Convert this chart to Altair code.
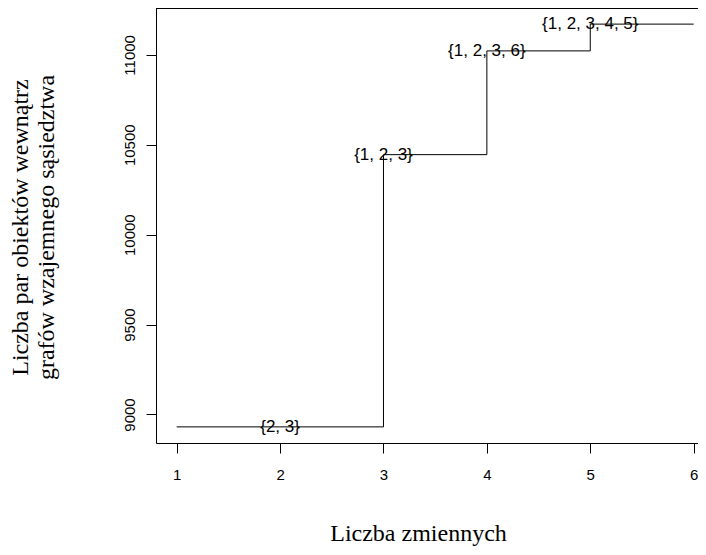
import altair as alt
import pandas as pd

# Step data (number of variables vs. number of object pairs)
step_x = [1, 2, 3, 4, 5, 6]
step_y = [8931, 8931, 10445, 11022, 11171, 11171]

# Labels of the chosen variable subsets
label_x = [2, 3, 4, 5]
label_y = [8931, 10445, 11022, 11171]
label_text = ["{2, 3}", "{1, 2, 3}", "{1, 2, 3, 6}", "{1, 2, 3, 4, 5}"]

x_ticks = [1, 2, 3, 4, 5, 6]
y_ticks = [9000, 9500, 10000, 10500, 11000]

step_df = pd.DataFrame({"x": step_x, "y": step_y})
label_df = pd.DataFrame({"x": label_x, "y": label_y, "t": label_text})

W, H = 542, 435

xscale = alt.Scale(domain=[0.8, 6.042], nice=False, zero=False)
yscale = alt.Scale(domain=[8841.4, 11260.6], nice=False, zero=False)

xaxis = alt.Axis(
    values=x_ticks, format="d", grid=False, domainColor="black", tickColor="black",
    tickSize=10, labelFont="Liberation Sans", labelFontSize=15, labelColor="black",
    labelPadding=14, labelBaseline="top",
    title="Liczba zmiennych", titleFont="Liberation Serif", titleFontSize=24,
    titleFontWeight="normal", titleColor="black", titleX=262, titleY=97,
    titleAlign="center", titleBaseline="alphabetic",
)
yaxis = alt.Axis(
    values=y_ticks, format="d", grid=False, domainColor="black", tickColor="black",
    tickSize=10, labelFont="Liberation Sans", labelFontSize=15, labelColor="black",
    labelAngle=-90, labelAlign="center", labelBaseline="bottom", labelPadding=9,
    title=["Liczba par obiektów wewnątrz", "grafów wzajemnego sąsiedztwa"],
    titleFont="Liberation Serif", titleFontSize=24, titleFontWeight="normal",
    titleColor="black", titleAngle=-90, titleAlign="center", titleBaseline="alphabetic",
    titleLineHeight=26, titleX=-129, titleY=219,
)

line = alt.Chart(step_df).mark_line(
    interpolate="step-after", color="black", strokeWidth=1
).encode(
    x=alt.X("x:Q", scale=xscale, axis=xaxis),
    y=alt.Y("y:Q", scale=yscale, axis=yaxis),
)

labels = alt.Chart(label_df).mark_text(
    font="Liberation Sans", fontSize=17, color="black", align="center", baseline="middle"
).encode(
    x=alt.X("x:Q", scale=xscale),
    y=alt.Y("y:Q", scale=yscale),
    text="t:N",
)

top_border = alt.Chart(pd.DataFrame({"a": [0]})).mark_rule(
    color="black", strokeWidth=1
).encode(
    x=alt.value(0), x2=alt.value(W), y=alt.value(0.5)
)

chart = alt.layer(line, labels, top_border).properties(
    width=W, height=H,
    autosize=alt.AutoSizeParams(type="none"),
    padding={"left": 148, "top": 0, "right": 0, "bottom": 104},
    background="white",
).configure_view(stroke="transparent")

chart.save("out.html", embed_options={"renderer": "svg", "actions": False})
